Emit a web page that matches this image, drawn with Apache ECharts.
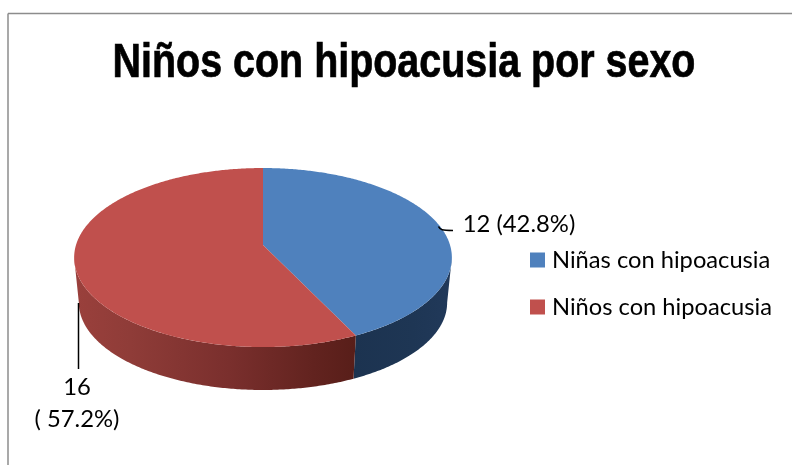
<!DOCTYPE html>
<html>
<head>
<meta charset="utf-8">
<style>html,body{margin:0;padding:0;background:#fff}#chart{width:792px;height:465px}</style>
<script src="https://cdn.jsdelivr.net/npm/echarts@6/dist/echarts.min.js"></script>
</head>
<body>
<div id="chart"></div>
<script>
// Chart data
const chartTitle = 'Niños con hipoacusia por sexo';
const categories = ['Niñas con hipoacusia', 'Niños con hipoacusia'];
const counts = [12, 16];
const valueLabels = ['12 (42.8%)', '16\n( 57.2%)'];
const topColors = ['#4f81bd', '#c0504d'];
const sideStops = [
  [[0, '#1c3350'], [0.6, '#1e3654'], [1, '#21395a']],
  [[0, '#9a403c'], [0.2, '#8f3c38'], [0.55, '#7a2f2d'], [0.85, '#62231f'], [1, '#581e19']]
];

// Tilted disc: a unit circle seen through a simple perspective
const disc = { cx: 263, apexY: 245, halfW: 187, halfH: 87.75, k: 0.14, depth: 45.5, baseScale: 0.975 };
const sideFrom = Math.acos(-disc.k);
const sideTo = 2 * Math.PI - sideFrom;

function project(t, onBase) {
  const u = Math.sin(t), v = -Math.cos(t), w = 1 - disc.k * v;
  const s = onBase ? disc.baseScale : 1;
  return [
    disc.cx + s * disc.halfW * u / w,
    disc.apexY + (onBase ? disc.depth : 0) + s * disc.halfH * v / w
  ];
}
function arc(a, b, onBase) {
  const n = Math.max(2, Math.ceil(Math.abs(b - a) / 0.01));
  const out = [];
  for (let i = 0; i <= n; i++) out.push(project(a + (b - a) * i / n, onBase));
  return out;
}

const total = counts.reduce((a, b) => a + b, 0);
const angleOf = v => v / total * 2 * Math.PI;

function sliceSeries(index) {
  const before = counts.slice(0, index).reduce((a, b) => a + b, 0);
  const t0 = angleOf(before), t1 = angleOf(before + counts[index]);
  return {
    type: 'custom',
    name: categories[index],
    coordinateSystem: 'none',
    silent: true,
    itemStyle: { color: topColors[index] },
    data: [[counts[index]]],
    renderItem: function () {
      const a = Math.max(t0, sideFrom), b = Math.min(t1, sideTo);
      const side = arc(a, b, false).concat(arc(b, a, true));
      const top = [[disc.cx, disc.apexY]].concat(arc(t0, t1, false));
      const grad = new echarts.graphic.LinearGradient(0, 0, 1, 0,
        sideStops[index].map(s => ({ offset: s[0], color: s[1] })));
      return {
        type: 'group',
        children: [
          { type: 'polygon', shape: { points: side }, style: { fill: grad } },
          { type: 'polygon', shape: { points: top }, style: { fill: topColors[index] } }
        ]
      };
    }
  };
}

// Leader lines and value labels sit above the slices
const labelSeries = {
  type: 'custom',
  coordinateSystem: 'none',
  silent: true,
  z: 5,
  data: [[0]],
  renderItem: function () {
    const textStyle = { fill: '#000', font: '23.8px Lato', align: 'center', verticalAlign: 'middle', lineHeight: 32 };
    return {
      type: 'group',
      children: [
        { type: 'bezierCurve', shape: { x1: 438.5, y1: 226.5, cpx1: 440, cpy1: 230, cpx2: 442, cpy2: 230.5, x2: 453, y2: 230.5 },
          style: { stroke: '#000', lineWidth: 1.5, fill: null } },
        { type: 'line', shape: { x1: 78.5, y1: 303, x2: 78.5, y2: 369 }, style: { stroke: '#000', lineWidth: 1.5 } },
        { type: 'text', x: 519, y: 224, style: Object.assign({ text: valueLabels[0] }, textStyle) },
        { type: 'text', x: 77, y: 403, style: Object.assign({ text: valueLabels[1] }, textStyle) }
      ]
    };
  }
};

const chart = echarts.init(document.getElementById('chart'), null, { renderer: 'canvas' });
chart.setOption({
  animation: false,
  backgroundColor: '#fff',
  legend: {
    orient: 'vertical',
    left: 530, top: 248,
    padding: 0,
    itemWidth: 15, itemHeight: 15, itemGap: 23,
    icon: 'rect',
    data: categories,
    selectedMode: false,
    textStyle: { fontFamily: 'Lato', fontSize: 23.7, color: '#000', padding: [0, 0, 0, 2] }
  },
  graphic: [
    { type: 'line', shape: { x1: 8, y1: 13.5, x2: 792, y2: 13.5 }, style: { stroke: '#8c8c8c', lineWidth: 1.5 }, silent: true },
    { type: 'line', shape: { x1: 8, y1: 13.5, x2: 8, y2: 465 }, style: { stroke: '#8c8c8c', lineWidth: 1.5 }, silent: true },
    // Condensed heading: the bold sans is narrowed horizontally
    { type: 'text', x: 404, y: 63.5, scaleX: 0.8215, silent: true,
      style: { text: chartTitle, fill: '#000', stroke: '#000', lineWidth: 0.7, font: 'bold 48px "Liberation Sans"', align: 'center', verticalAlign: 'middle' } }
  ],
  series: [sliceSeries(0), sliceSeries(1), labelSeries]
});
</script>
</body>
</html>
